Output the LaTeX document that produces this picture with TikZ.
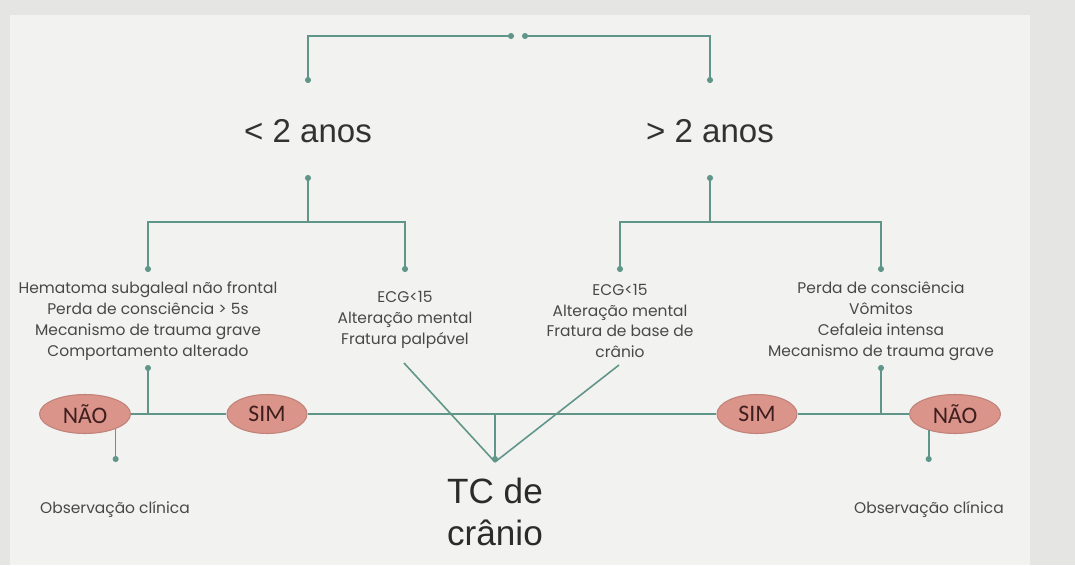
\documentclass[tikz,border=0pt]{standalone}
\usepackage{fontspec}
\setmainfont{Liberation Sans}
\newfontfamily\critfont{Poppins}
\newfontfamily\respfont{Carlito}
\usepackage{xcolor}
\usetikzlibrary{arrows.meta,positioning,shapes.geometric}

\definecolor{fundo}{RGB}{229,229,228}
\definecolor{painel}{RGB}{242,242,240}
\definecolor{linha}{RGB}{96,150,138}
\definecolor{salmao}{RGB}{218,148,138}
\definecolor{marrom}{RGB}{62,30,30}
\definecolor{texto}{RGB}{72,72,72}

\begin{document}
\begin{tikzpicture}[x=0.02cm, y=-0.02cm,
    link/.style={draw=linha, line width=0.9pt},
    dotend/.style={-{Circle[length=3.4pt]}},
    dotstart/.style={{Circle[length=3.4pt]}-},
    dotboth/.style={{Circle[length=3.4pt]}-{Circle[length=3.4pt]}},
    idade/.style={font=\fontsize{18.8}{22}\selectfont, text=texto!70!black},
    crit/.style={font=\critfont\fontsize{8.8}{11.9}\selectfont, align=center, text=texto},
    resp/.style={ellipse, fill=salmao, draw=salmao!88!black, line width=0.6pt,
      minimum height=0.78cm, inner sep=0pt, text=marrom,
      font=\respfont\fontsize{13.5}{15}\selectfont},
    tc/.style={font=\fontsize{20}{23.5}\selectfont, align=center, text=texto!60!black}]
  % fundo
  \fill[fundo] (0,0) rectangle (1075,565);
  \fill[painel] (10,15) rectangle (1030,565);

  % idades
  \node[idade] (menor) at (308,131) {< 2 anos};
  \node[idade] (maior) at (710,131) {> 2 anos};

  % criterios
  \node[crit] (hemat) at (148,321) {Hematoma subgaleal não frontal\\Perda de consciência > 5s\\Mecanismo de trauma grave\\Comportamento alterado};
  \node[crit] (ecgA) at (405,320) {ECG<15\\Alteração mental\\Fratura palpável};
  \node[crit] (ecgB) at (620,321) {ECG<15\\Alteração mental\\Fratura de base de\\crânio};
  \node[crit] (perda) at (881,321) {Perda de consciência\\Vômitos\\Cefaleia intensa\\Mecanismo de trauma grave};

  % respostas
  \node[resp, minimum width=1.82cm] (nao1) at (85,414) {NÃO};
  \node[resp, minimum width=1.6cm] (sim1) at (267,414) {SIM};
  \node[resp, minimum width=1.6cm] (sim2) at (757,414) {SIM};
  \node[resp, minimum width=1.82cm] (nao2) at (955,414) {NÃO};

  \node[crit] (obs1) at (115,509) {Observação clínica};
  \node[crit] (obs2) at (929,509) {Observação clínica};
  \node[tc] (tc) at (495,512) {TC de\\crânio};

  % pontos de ligacao
  \coordinate (raizA) at (514,36);
  \coordinate (raizB) at (522,36);
  \coordinate (menorIn) at (308,83);
  \coordinate (maiorIn) at (710,83);
  \coordinate (menorOut) at (308,175);
  \coordinate (maiorOut) at (710,175);
  \coordinate (menorFork) at (308,222);
  \coordinate (maiorFork) at (710,222);
  \coordinate (hematIn) at (148,272);
  \coordinate (ecgAIn) at (405,272);
  \coordinate (ecgBIn) at (620,272);
  \coordinate (perdaIn) at (881,272);
  \coordinate (hematOut) at (148,365);
  \coordinate (perdaOut) at (881,365);
  \coordinate (ecgAOut) at (404,363);
  \coordinate (ecgBOut) at (619,365);
  \coordinate (tcIn) at (495,462);
  \coordinate (obs1In) at (115,462);
  \coordinate (obs2In) at (929,462);

  % ligacoes
  \draw[link, dotboth] (raizA) -| (menorIn);
  \draw[link, dotboth] (raizB) -| (maiorIn);
  \draw[link, dotstart] (menorOut) -- (menorFork);
  \draw[link, dotstart] (maiorOut) -- (maiorFork);
  \draw[link, dotend] (menorFork) -| (hematIn);
  \draw[link, dotend] (menorFork) -| (ecgAIn);
  \draw[link, dotend] (maiorFork) -| (ecgBIn);
  \draw[link, dotend] (maiorFork) -| (perdaIn);

  \draw[link] (nao1) -- (sim1);
  \draw[link] (sim1) -- (sim2);
  \draw[link] (sim2) -- (nao2);
  \draw[link, dotend] (hematOut |- nao1) -- (hematOut);
  \draw[link, dotend] (perdaOut |- nao2) -- (perdaOut);
  \draw[link, dotend] (nao1.-26) -- (nao1.-26 |- obs1In);
  \draw[link, dotend] (nao2.-148) -- (nao2.-148 |- obs2In);

  \draw[link] (ecgAOut) -- (tcIn);
  \draw[link] (ecgBOut) -- (tcIn);
  \draw[link, dotend] (tcIn |- sim1) -- (tcIn);
\end{tikzpicture}
\end{document}
